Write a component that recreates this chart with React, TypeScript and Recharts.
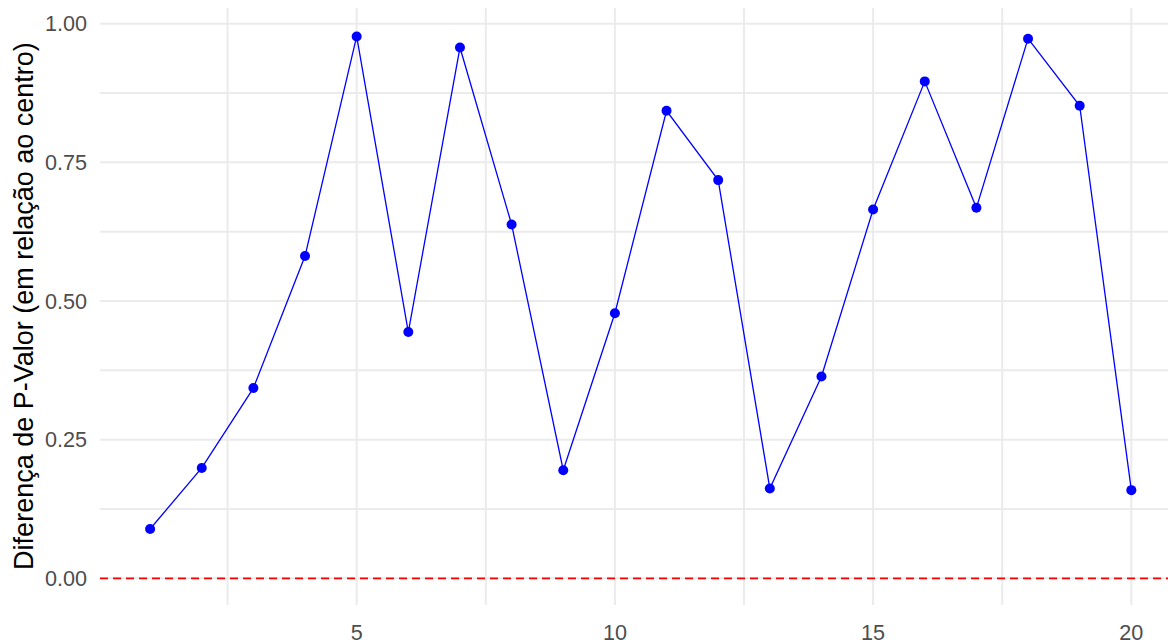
import React from 'react'
import { LineChart, Line, XAxis, YAxis, CartesianGrid, ReferenceLine } from 'recharts';

const pos = [1, 2, 3, 4, 5, 6, 7, 8, 9, 10, 11, 12, 13, 14, 15, 16, 17, 18, 19, 20];
const diff = [0.089, 0.199, 0.343, 0.581, 0.977, 0.444, 0.957, 0.638, 0.195, 0.478,
    0.843, 0.718, 0.162, 0.364, 0.665, 0.896, 0.668, 0.973, 0.852, 0.159];

const xTicks = [5, 10, 15, 20];
const yTicks = [0, 0.25, 0.5, 0.75, 1];
const xGrid = [2.5, 5, 7.5, 10, 12.5, 15, 17.5, 20];
const yGrid = [0, 0.125, 0.25, 0.375, 0.5, 0.625, 0.75, 0.875, 1];

const data = pos.map((p, i) => ({ pos: p, diff: diff[i] }));

const YTitle = () => (
    <text x={33} y={306} transform="rotate(-90 33 306)" textAnchor="middle"
        fontSize={27} fill="#000" fontFamily="'Liberation Sans', Arial, sans-serif">
        Diferença de P-Valor (em relação ao centro)
    </text>
);

const App = () => {
    return (
        <div style={{ position: 'absolute', left: 0, top: 0, width: 1168, height: 640, background: '#fff' }}>
            <LineChart width={1168} height={640} data={data}
                margin={{ top: 8, right: 0, left: 0, bottom: 0 }}
                style={{ fontFamily: "'Liberation Sans', Arial, sans-serif" }}>
                <CartesianGrid stroke="#EBEBEB" strokeWidth={2}
                    verticalValues={xGrid} horizontalValues={yGrid} />
                <XAxis dataKey="pos" type="number" domain={[0.03, 20.71]} ticks={xTicks}
                    allowDataOverflow axisLine={false} tickLine={false} tickSize={0} tickMargin={20}
                    height={35} tick={{ fill: '#4D4D4D', fontSize: 21.6 }} />
                <YAxis type="number" domain={[-0.0481, 1.0283]} ticks={yTicks}
                    allowDataOverflow axisLine={false} tickLine={false} tickSize={0} tickMargin={13}
                    width={100} tick={{ fill: '#4D4D4D', fontSize: 21.6 }}
                    tickFormatter={(v: number) => v.toFixed(2)} />
                <ReferenceLine y={0} stroke="#FF0000" strokeWidth={1.8} strokeDasharray="8 5" />
                <Line type="linear" dataKey="diff" stroke="#0000FF" strokeWidth={1.3}
                    dot={{ r: 5, fill: '#0000FF', stroke: '#0000FF', strokeWidth: 0 }}
                    activeDot={false} isAnimationActive={false} />
                <YTitle />
            </LineChart>
        </div>
    );
}

export default App
